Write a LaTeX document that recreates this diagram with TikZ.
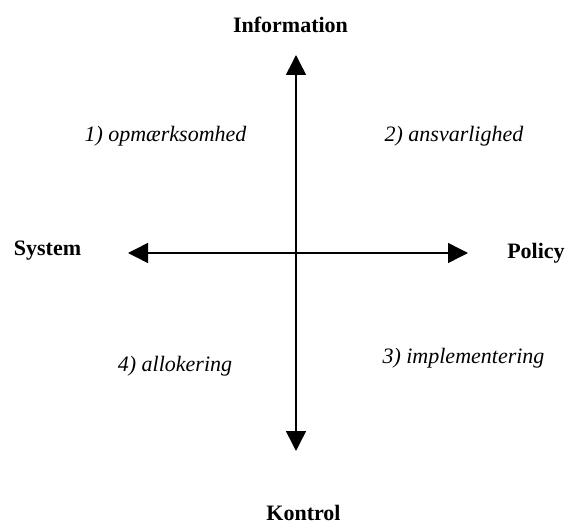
\documentclass[tikz,border=0pt]{standalone}
\usepackage{fontspec}
\setmainfont{Liberation Serif}
\usetikzlibrary{arrows.meta}
\tikzset{
  axis/.style={line width=1.5pt,{Triangle[width=20pt,length=20pt]}-{Triangle[width=20pt,length=20pt]}},
  axlabel/.style={anchor=base,inner sep=0pt,font=\fontsize{22}{26}\selectfont\bfseries},
  quadlabel/.style={anchor=base,inner sep=0pt,font=\fontsize{22}{26}\selectfont\itshape}
}
\begin{document}
\begin{tikzpicture}[x=1pt,y=-1pt]
\useasboundingbox (0,0) rectangle (566,524);
\coordinate (top) at (296,55);
\coordinate (bottom) at (296,451);
\coordinate (left) at (128,253);
\coordinate (right) at (468,253);
\draw[axis] (top) -- (bottom);
\draw[axis] (left) -- (right);
\node[axlabel] (info) at (290.5,33) {Information};
\node[axlabel] (kontrol) at (303.5,520) {Kontrol};
\node[axlabel] (system) at (47.5,256) {System};
\node[axlabel] (policy) at (536,259) {Policy};
\node[quadlabel] (q1) at (165.5,142) {1) opmærksomhed};
\node[quadlabel] (q2) at (454,142) {2) ansvarlighed};
\node[quadlabel] (q4) at (175,371) {4) allokering};
\node[quadlabel] (q3) at (463.5,363) {3) implementering};
\end{tikzpicture}
\end{document}
